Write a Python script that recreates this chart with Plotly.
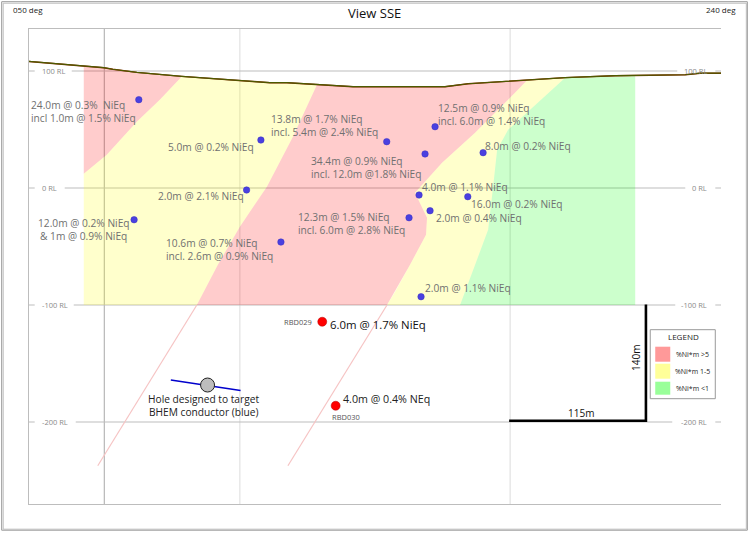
import plotly.graph_objects as go

# Section data. x = position along section, y = RL (m)
topo_x = [29, 84, 104, 113, 137, 182, 240, 270, 287, 317, 353, 385, 445, 468, 508, 565, 615, 685, 700, 721]
topo_rl = [108.2, 104.3, 102.8, 101.5, 98.8, 95.4, 92.0, 90.0, 90.0, 88.3, 86.6, 86.6, 86.6, 89.1, 91.1, 94.3, 96.0, 96.8, 98.1, 98.1]

red_west_x = [84, 104, 137, 182, 160, 137, 107, 84]
red_west_rl = [104.3, 102.8, 98.8, 95.4, 75.5, 56.7, 28.5, 12.2]

yellow_west_x = [84, 107, 137, 160, 182, 240, 270, 287, 317, 293, 267, 240, 218, 197, 84]
yellow_west_rl = [12.2, 28.5, 56.7, 75.5, 95.4, 92.0, 90.0, 90.0, 88.3, 43.8, 1.1, -33.1, -65.6, -100, -100]

red_main_x = [317, 353, 385, 445, 468, 508, 527, 508, 475, 442, 415, 427, 426, 410, 395, 387, 197, 218, 240, 267, 293]
red_main_rl = [88.3, 86.6, 86.6, 86.6, 89.1, 91.1, 92.1, 75.5, 47.3, 21.6, -4.0, -25.4, -39.9, -65.6, -88.6, -100, -100, -65.6, -33.1, 1.1, 43.8]

yellow_east_x = [527, 565, 508, 497, 493, 488, 475, 460, 387, 395, 410, 426, 427, 415, 442, 475, 508]
yellow_east_rl = [92.1, 94.3, 49.8, 32.7, 1.1, -35.6, -65.6, -100, -100, -88.6, -65.6, -39.9, -25.4, -4.0, 21.6, 47.3, 75.5]

green_x = [565, 615, 635, 635, 460, 475, 488, 493, 497, 508]
green_rl = [94.3, 96.0, 96.2, -100, -100, -65.6, -35.6, 1.1, 32.7, 49.8]

trace_a_x = [197, 98]
trace_a_rl = [-100, -237.4]
trace_b_x = [387, 288]
trace_b_rl = [-100, -237.4]

hole_x = [139, 261, 246.7, 134.3, 281, 386.7, 435, 425, 483, 419, 467.7, 430, 409, 421]
hole_rl = [75.5, 41.0, -1.7, -27.1, -46.2, 39.6, 52.4, 29.1, 30.2, -6.0, -7.4, -19.4, -25.4, -92.9]

new_hole_x = [322.3, 335.7]
new_hole_rl = [-114.3, -186.1]

target_x = [207.7]
target_rl = [-168.4]
conductor_x = [171, 240.7]
conductor_rl = [-164.1, -173.0]

scale_x = [509, 645.7, 645.7]
scale_rl = [-198.9, -198.9, -99.5]

# Grid
vgrid_x = [104.5, 240, 510]
vgrid_col = ["#a8a8a8", "#dcdcdc", "#dcdcdc"]
rl_ticks = [100, 0, -100, -200]
rl_labels = ["100 RL", "0 RL", "-100 RL", "-200 RL"]
rl_left_end = [72, 65, 74, 76]
rl_right_end = [677, 685, 675, 672]

# Intercept labels: text, left edge, page y
grey_labels = [
    ("24.0m @ 0.3%  NiEq<br>incl 1.0m @ 1.5% NiEq", 31, 112),
    ("5.0m @ 0.2% NiEq", 168, 147),
    ("13.8m @ 1.7% NiEq<br>incl. 5.4m @ 2.4% NiEq", 271, 126),
    ("34.4m @ 0.9% NiEq<br>incl. 12.0m @1.8% NiEq", 311, 168),
    ("12.5m @ 0.9% NiEq<br>incl. 6.0m @ 1.4% NiEq", 438, 115),
    ("8.0m @ 0.2% NiEq", 485, 146),
    ("4.0m @ 1.1% NiEq", 422, 187),
    ("16.0m @ 0.2% NiEq", 471, 204),
    ("2.0m @ 0.4% NiEq", 436, 218),
    ("2.0m @ 2.1% NiEq", 158, 196),
    ("12.3m @ 1.5% NiEq<br>incl. 6.0m @ 2.8% NiEq", 298, 224),
    ("10.6m @ 0.7% NiEq<br>incl. 2.6m @ 0.9% NiEq", 166, 250),
    ("2.0m @ 1.1% NiEq", 425, 288),
]

legend_labels = ["%Ni*m >5", "%Ni*m 1-5", "%Ni*m <1"]
legend_cols = ["#ff9999", "#ffff99", "#99ff99"]

W, H = 750, 534
L, R, T, B = 29.3, 720.7, 29.3, 504.3


def rl(py):
    return (188.3 - py) / 1.17


def px(x):
    return (x - L) / (R - L)


def py(y):
    return (B - y) / (B - T)


fig = go.Figure()


def add_fill(x, y, col):
    fig.add_trace(go.Scatter(x=x, y=y, mode="lines", fill="toself", fillcolor=col,
                             line=dict(width=0), hoverinfo="skip"))


add_fill(red_west_x, red_west_rl, "rgba(255,0,0,0.2)")
add_fill(yellow_west_x, yellow_west_rl, "rgba(255,255,0,0.2)")
add_fill(red_main_x, red_main_rl, "rgba(255,0,0,0.2)")
add_fill(yellow_east_x, yellow_east_rl, "rgba(255,255,0,0.2)")
add_fill(green_x, green_rl, "rgba(0,255,0,0.2)")

for xs, ys in [(trace_a_x, trace_a_rl), (trace_b_x, trace_b_rl)]:
    fig.add_trace(go.Scatter(x=xs, y=ys, mode="lines", line=dict(color="#f6c4c4", width=1.2)))

# topo, dark red under olive
fig.add_trace(go.Scatter(x=topo_x, y=topo_rl, mode="lines", line=dict(color="#8a2a00", width=1.4)))
fig.add_trace(go.Scatter(x=topo_x, y=topo_rl, mode="lines", line=dict(color="#4d5a00", width=1.2)))

fig.add_trace(go.Scatter(x=conductor_x, y=conductor_rl, mode="lines", line=dict(color="#0000cc", width=1.5)))
fig.add_trace(go.Scatter(x=target_x, y=target_rl, mode="markers",
                         marker=dict(size=14, color="#bdbdbd", line=dict(color="#222222", width=1))))
fig.add_trace(go.Scatter(x=hole_x, y=hole_rl, mode="markers",
                         marker=dict(size=6.5, color="#4a40e0", line=dict(color="#3a30c0", width=0.5))))
fig.add_trace(go.Scatter(x=new_hole_x, y=new_hole_rl, mode="markers",
                         marker=dict(size=9, color="#ff0000", line=dict(color="#b00000", width=0.5))))
fig.add_trace(go.Scatter(x=scale_x, y=scale_rl, mode="lines", line=dict(color="#000000", width=2.6)))

# vertical grid lines
for x, c in zip(vgrid_x, vgrid_col):
    fig.add_shape(type="line", x0=x, x1=x, y0=rl(T), y1=rl(B), layer="below",
                  line=dict(color=c, width=1))

# horizontal lines broken around the RL labels
for v, a, b in zip(rl_ticks, rl_left_end, rl_right_end):
    for x0, x1 in [(L, 35), (a, b), (715, R)]:
        fig.add_shape(type="line", x0=x0, x1=x1, y0=v, y1=v, layer="below",
                      line=dict(color="#bdbdbd", width=1))

ann = []


def add_text(text, x, y, anchor, size, col):
    # one annotation per line, plotly's own line height is too loose here
    lines = text.split("<br>")
    step = 1.31 * size
    y0 = y - step * (len(lines) - 1) / 2
    for i, s in enumerate(lines):
        ann.append(dict(x=x, y=rl(y0 + i * step), text=s, xanchor=anchor,
                        font=dict(size=size, color=col)))


for t, v in zip(rl_labels, rl_ticks):
    ann.append(dict(x=42, y=v, text=t, xanchor="left", font=dict(size=7.5, color="#8a8a8a")))
    ann.append(dict(x=707, y=v, text=t, xanchor="right", font=dict(size=7.5, color="#8a8a8a")))

for t, x, y in grey_labels:
    add_text(t, x, y, "left", 10.2, "#707070")

add_text("12.0m @ 0.2% NiEq<br>& 1m @ 0.9% NiEq", 84, 230, "center", 10.2, "#707070")
add_text("6.0m @ 1.7% NiEq", 330, 325, "left", 11.4, "#111111")
add_text("4.0m @ 0.4% NEq", 343, 399, "left", 10.7, "#222222")
add_text("RBD029", 284, 322, "left", 7.5, "#555555")
add_text("RBD030", 332, 417, "left", 7.5, "#555555")
add_text("Hole designed to target<br>BHEM conductor (blue)", 204, 406, "center", 10.2, "#222222")
add_text("115m", 581, 413, "center", 10, "#111111")
ann.append(dict(x=635, y=rl(358), text="140m", textangle=-90, xanchor="center",
                font=dict(size=10, color="#111111")))

# page furniture in page pixels
page = [
    ("View SSE", 375, 13, "center", 13, "#111111"),
    ("050 deg", 13, 10, "left", 8, "#222222"),
    ("240 deg", 736, 10, "right", 8, "#222222"),
    ("LEGEND", 683, 337, "center", 8, "#222222"),
]
for t, x, y, anch, s, c in page:
    ann.append(dict(xref="paper", yref="paper", x=px(x), y=py(y), text=t, xanchor=anch,
                    font=dict(size=s, color=c)))

fig.add_shape(type="rect", xref="paper", yref="paper", x0=px(650), x1=px(715), y0=py(330), y1=py(399),
              line=dict(color="#999999", width=1), fillcolor="white", layer="above")
swatch_y = [(347, 362), (364, 379), (382, 395)]
for lab, col, (y0, y1) in zip(legend_labels, legend_cols, swatch_y):
    fig.add_shape(type="rect", xref="paper", yref="paper", x0=px(655), x1=px(670), y0=py(y0), y1=py(y1),
                  line=dict(width=0), fillcolor=col, layer="above")
    ann.append(dict(xref="paper", yref="paper", x=px(692), y=py((y0 + y1) / 2), text=lab, xanchor="center",
                    font=dict(size=7, color="#222222")))

# double page frame
for a, b, c in [(2, 747, "#999999"), (3.5, 746, "#bbbbbb")]:
    fig.add_shape(type="rect", xref="paper", yref="paper", x0=px(a), x1=px(b), y0=py(a), y1=py(530.5 if a < 3 else 529.5),
                  line=dict(color=c, width=1), layer="above")

for a in ann:
    a.update(showarrow=False, yanchor="middle", borderpad=0, borderwidth=0)

fig.update_layout(
    width=W, height=H,
    margin=dict(l=L, r=W - R, t=T, b=H - B, pad=0),
    paper_bgcolor="white", plot_bgcolor="white",
    showlegend=False,
    font=dict(family="Open Sans, sans-serif"),
    annotations=ann,
    xaxis=dict(range=[L, R], showgrid=False, zeroline=False, showticklabels=False, ticks="",
               showline=True, mirror=True, linecolor="#bdbdbd", linewidth=1),
    yaxis=dict(range=[rl(B), rl(T)], showgrid=False, zeroline=False, showticklabels=False, ticks="",
               showline=True, linecolor="#bdbdbd", linewidth=1),
)

fig.write_html("out.html", config={"displayModeBar": False},
               post_script="document.body.style.margin='0';document.body.style.overflow='hidden';")
